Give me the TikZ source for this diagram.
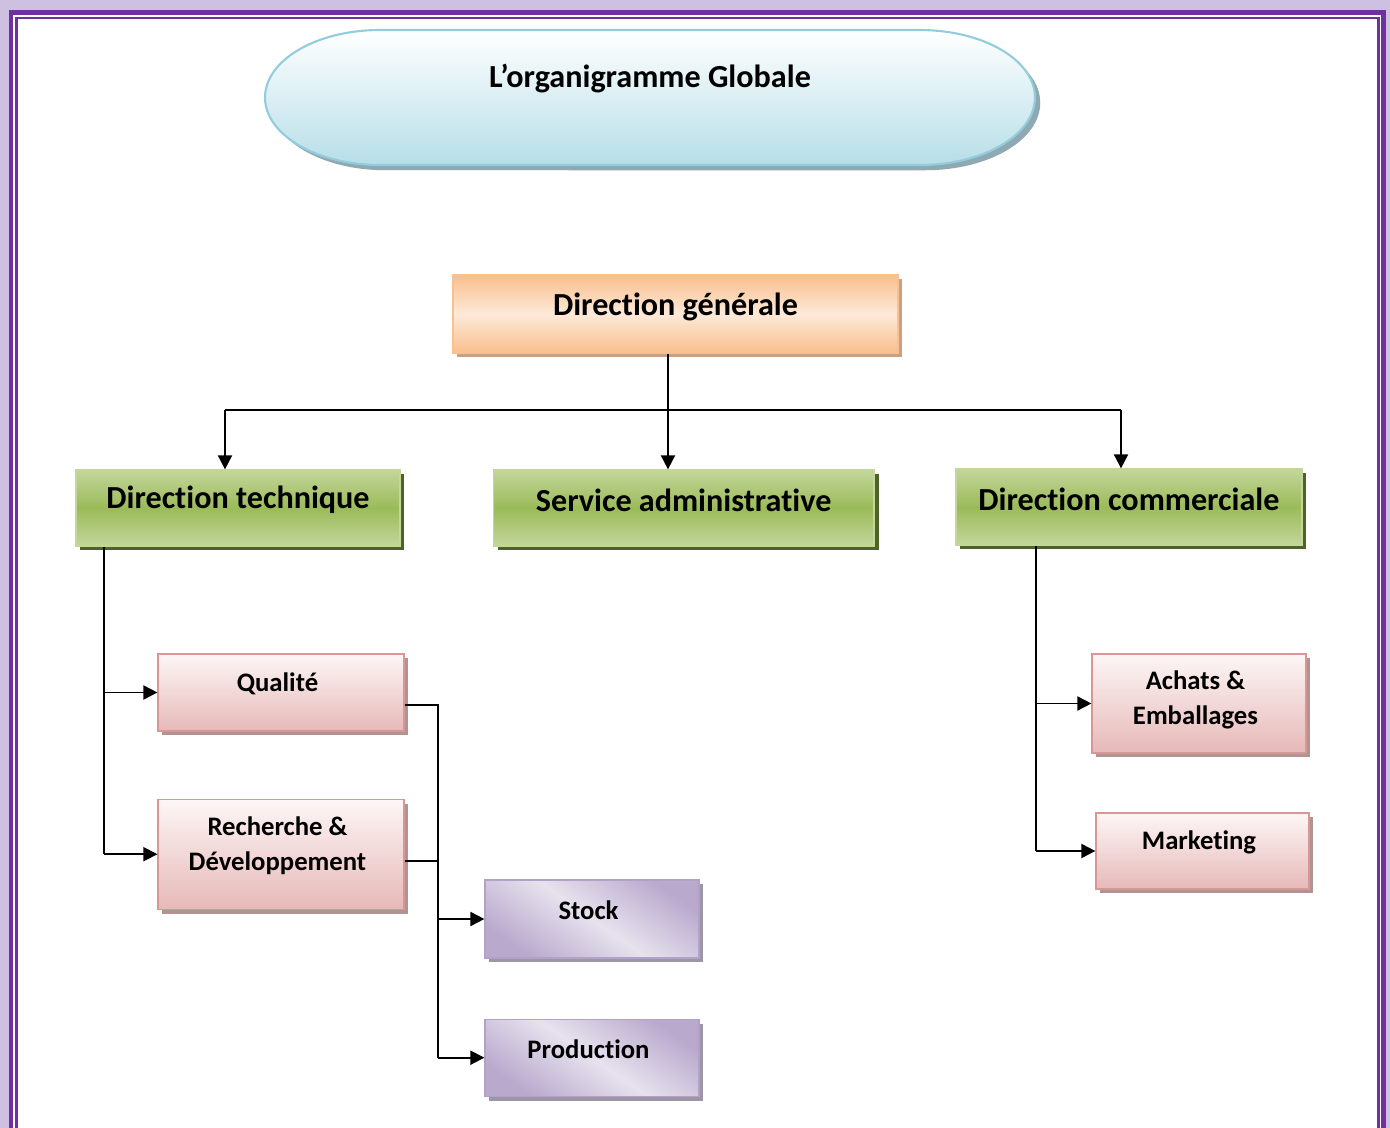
\documentclass[tikz,border=0pt]{standalone}
\usepackage{fontspec}
\setmainfont{Carlito}[Ligatures=NoCommon]
\usepackage{tikz}
\usetikzlibrary{positioning,arrows.meta,shadows}
\definecolor{framepurple}{HTML}{7030A0}
\definecolor{glowpurple}{HTML}{CDC0E0}
\definecolor{titleline}{HTML}{93CDDD}
\definecolor{titlebot}{HTML}{B7DEE8}
\definecolor{titleshadow}{HTML}{8FA9B3}
\definecolor{orangeline}{HTML}{FAC090}
\definecolor{orangedark}{HTML}{F9BF8C}
\definecolor{orangelight}{HTML}{FDE9D9}
\definecolor{orangeshadow}{HTML}{C8A084}
\definecolor{greenline}{HTML}{C3D69B}
\definecolor{greenlight}{HTML}{C3D69B}
\definecolor{greendark}{HTML}{9BBB59}
\definecolor{greenshadow}{HTML}{4F6228}
\definecolor{pinkline}{HTML}{D99694}
\definecolor{pinktop}{HTML}{FDF6F6}
\definecolor{pinkbot}{HTML}{E6B9B8}
\definecolor{pinkshadow}{HTML}{B09494}
\definecolor{lilacline}{HTML}{B3A2C7}
\definecolor{lilacdark}{HTML}{B9A9CD}
\definecolor{lilaclight}{HTML}{E7E2EE}
\definecolor{lilacshadow}{HTML}{9C96A6}
\tikzset{box/.style={
        draw, 
        rectangle, 
        inner sep=0pt,
        line width=0.7pt } }
\tikzset{dirbox/.style={
        box, 
        draw=greenline, 
        top color=greenlight, bottom color=greenlight, middle color=greendark,
        drop shadow={shadow xshift=2.5pt,shadow yshift=-2.5pt,fill=greenshadow,opacity=1},
        minimum height=1.52cm } }
\tikzset{servbox/.style={
        box, 
        draw=pinkline, 
        top color=pinktop, bottom color=pinkbot,
        drop shadow={shadow xshift=2.5pt,shadow yshift=-2.5pt,fill=pinkshadow,opacity=1},
        minimum width=4.92cm } }
\tikzset{unitbox/.style={
        box, 
        draw=lilacline, 
        left color=lilacdark, right color=lilacdark, middle color=lilaclight, shading angle=-35,
        drop shadow={shadow xshift=2.5pt,shadow yshift=-2.5pt,fill=lilacshadow,opacity=1},
        minimum width=4.28cm } }
\tikzset{bigtxt/.style={font=\bfseries\fontsize{18.3}{21}\selectfont, yshift=4.5pt}}
\tikzset{smalltxt/.style={font=\bfseries\fontsize{15.2}{20}\selectfont, align=center, yshift=5pt, xshift=-2pt}}
\tikzset{link/.style={line width=1.05pt}}
\tikzset{arr/.style={link, -{Triangle[length=8pt,width=8pt]}}}

\begin{document}
\begin{tikzpicture}[x=0.02cm,y=-0.02cm]
\useasboundingbox (0,0) rectangle (1390,1128);

% page frame
\fill[glowpurple] (0,0) rectangle (1390,1140);
\fill[white] (11,12) rectangle (1383,1140);
\draw[framepurple, line width=2.3pt] (11,12.5) rectangle (1383.5,1160);
\draw[framepurple, line width=1.2pt] (16.5,18) rectangle (1378.5,1160);

% title
\path[draw=titleline, line width=1.2pt, top color=white, bottom color=titlebot,
    drop shadow={shadow xshift=3pt,shadow yshift=-3pt,fill=titleshadow,opacity=1}]
    (380,30) arc[start angle=90,end angle=270,x radius=2.3cm,y radius=1.35cm]
    -- (920,165) arc[start angle=270,end angle=450,x radius=2.3cm,y radius=1.35cm] -- cycle;
\node[font=\bfseries\fontsize{18.3}{21}\selectfont] (title) at (650,79) {L’organigramme Globale};

% direction
\node[box, draw=orangeline, top color=orangedark, bottom color=orangedark, middle color=orangelight,
    drop shadow={shadow xshift=2.5pt,shadow yshift=-2.5pt,fill=orangeshadow,opacity=1},
    minimum width=8.9cm, minimum height=1.56cm,
    label={[bigtxt,yshift=-0.5pt]center:Direction générale}] (dg) at (675.5,314) {};

\node[dirbox, minimum width=6.48cm, label={[bigtxt]center:Direction technique}] (dt) at (238,508) {};
\node[dirbox, minimum width=7.62cm, label={[bigtxt]center:Service administrative}] (sa) [right = 1.84cm of dt] {};
\node[dirbox, minimum width=6.92cm, label={[bigtxt]center:Direction commerciale}] (dc) at (1129,507) {};

\node[servbox, minimum height=1.54cm, label={[smalltxt]center:Qualité}] (qual) at (281,692.5) {};
\node[servbox, minimum height=2.2cm, label={[smalltxt]center:{Recherche \&\\Développement}}] (rd) [below = 1.34cm of qual] {};

\node[unitbox, minimum height=1.56cm, label={[smalltxt]center:Stock}] (stock) at (592,919) {};
\node[unitbox, minimum height=1.54cm, label={[smalltxt]center:Production}] (prod) [below = 1.2cm of stock] {};

\node[servbox, minimum width=4.28cm, minimum height=1.98cm, label={[smalltxt,yshift=-3pt]center:{Achats \&\\Emballages}}] (ach) at (1199,703.5) {};
\node[servbox, minimum width=4.26cm, minimum height=1.52cm, label={[smalltxt]center:Marketing}] (mkt) at (1202.5,851) {};

% links
\coordinate (busL) at (225,410);
\coordinate (busM) at (668,410);
\coordinate (busR) at (1121,410);
\coordinate (trkT) at (104,0);
\coordinate (trkU) at (438,0);
\coordinate (trkC) at (1036,0);

\draw[link] (busL) -- (busR);
\draw[link] (dg.south -| busM) -- (busM);
\draw[arr] (busM) -- (sa.north -| busM);
\draw[arr] (busL) -- (dt.north -| busL);
\draw[arr] (busR) -- (dc.north -| busR);

\draw[link] (dt.south -| trkT) -- (rd.west -| trkT);
\draw[arr] (qual.west -| trkT) -- (qual.west);
\draw[arr] (rd.west -| trkT) -- (rd.west);

\draw[link] ([yshift=-7pt]qual.east) -| (prod.west -| trkU);
\draw[link] ([yshift=-4pt]rd.east) -- ([yshift=-4pt]rd.east -| trkU);
\draw[arr] (stock.west -| trkU) -- (stock.west);
\draw[arr] (prod.west -| trkU) -- (prod.west);

\draw[link] (dc.south -| trkC) -- (mkt.west -| trkC);
\draw[arr] (ach.west -| trkC) -- (ach.west);
\draw[arr] (mkt.west -| trkC) -- (mkt.west);

\end{tikzpicture}
\end{document}
